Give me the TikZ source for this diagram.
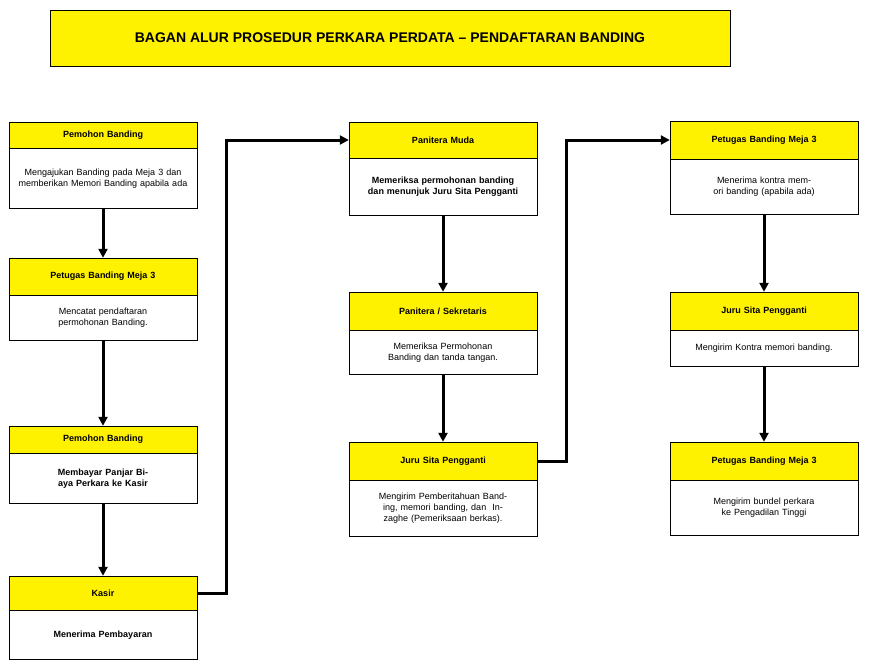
\documentclass[tikz,border=0pt]{standalone}
\usepackage{fontspec}
\setmainfont{Liberation Sans}
\usetikzlibrary{arrows.meta,positioning}

\tikzstyle{head} = [rectangle, draw, fill=yellow, text width=172pt, align=center,
    font=\fontsize{9}{11}\selectfont\bfseries, inner xsep=8pt, inner ysep=0pt]
\tikzstyle{body} = [rectangle, draw, fill=white, text width=172pt, align=center,
    font=\fontsize{9}{11}\selectfont, inner xsep=8pt, inner ysep=0pt]
\tikzstyle{ar}   = [-{Triangle[length=9pt,width=9pt]}, line width=3pt]

\begin{document}
\begin{tikzpicture}[x=1pt, y=-1pt]
\useasboundingbox (0,0) rectangle (869,669);

\node[draw, fill=yellow, minimum width=680pt, minimum height=56pt, font=\fontsize{14}{16}\selectfont\bfseries] (title) at (390,38) {BAGAN ALUR PROSEDUR PERKARA PERDATA -- PENDAFTARAN BANDING};

% kolom kiri
\node[head, minimum height=26pt] (h1) at (103,135) {Pemohon Banding};
\node[body, minimum height=60pt, below=0pt of h1] (b1) {Mengajukan Banding pada Meja 3 dan memberikan Memori Banding apabila ada};
\node[head, minimum height=37pt] (h2) at (103,276.5) {Petugas Banding Meja 3};
\node[body, minimum height=45pt, below=0pt of h2] (b2) {Mencatat pendaftaran permohonan Banding.};
\node[head, minimum height=27pt] (h3) at (103,439.5) {Pemohon Banding};
\node[body, minimum height=50pt, below=0pt of h3, font=\fontsize{9}{11}\selectfont\bfseries] (b3) {Membayar Panjar Biaya Perkara ke Kasir};
\node[head, minimum height=34pt] (h4) at (103,593) {Kasir};
\node[body, minimum height=49pt, below=0pt of h4, font=\fontsize{9}{11}\selectfont\bfseries] (b4) {Menerima Pembayaran};

% kolom tengah
\node[head, minimum height=36pt] (h5) at (443,140) {Panitera Muda};
\node[body, minimum height=57pt, below=0pt of h5, font=\fontsize{9}{11}\selectfont\bfseries] (b5) {Memeriksa permohonan banding dan menunjuk Juru Sita Pengganti};
\node[head, minimum height=38pt] (h6) at (443,311) {Panitera / Sekretaris};
\node[body, minimum height=44pt, below=0pt of h6] (b6) {Memeriksa Permohonan Banding dan tanda tangan.};
\node[head, minimum height=38pt] (h7) at (443,461) {Juru Sita Pengganti};
\node[body, minimum height=56pt, below=0pt of h7] (b7) {Mengirim Pemberitahuan Banding, memori banding, dan \ Inzaghe (Pemeriksaan berkas).};

% kolom kanan
\node[head, minimum height=38pt] (h8) at (764,140) {Petugas Banding Meja 3};
\node[body, minimum height=55pt, below=0pt of h8] (b8) {Menerima kontra memori banding (apabila ada)};
\node[head, minimum height=38pt] (h9) at (764,311) {Juru Sita Pengganti};
\node[body, minimum height=36pt, below=0pt of h9] (b9) {Mengirim Kontra memori banding.};
\node[head, minimum height=38pt] (h10) at (764,461) {Petugas Banding Meja 3};
\node[body, minimum height=55pt, below=0pt of h10] (b10) {Mengirim bundel perkara ke Pengadilan Tinggi};

\draw[ar] (b1) -- (h2);
\draw[ar] (b2) -- (h3);
\draw[ar] (b3) -- (h4);
\draw[ar] (b5) -- (h6);
\draw[ar] (b6) -- (h7);
\draw[ar] (b8) -- (h9);
\draw[ar] (b9) -- (h10);
\draw[ar] (h4.east) -| (226,140) -- (h5.west);
\draw[ar] (h7.east) -| (566,140) -- (h8.west);
\end{tikzpicture}
\end{document}
